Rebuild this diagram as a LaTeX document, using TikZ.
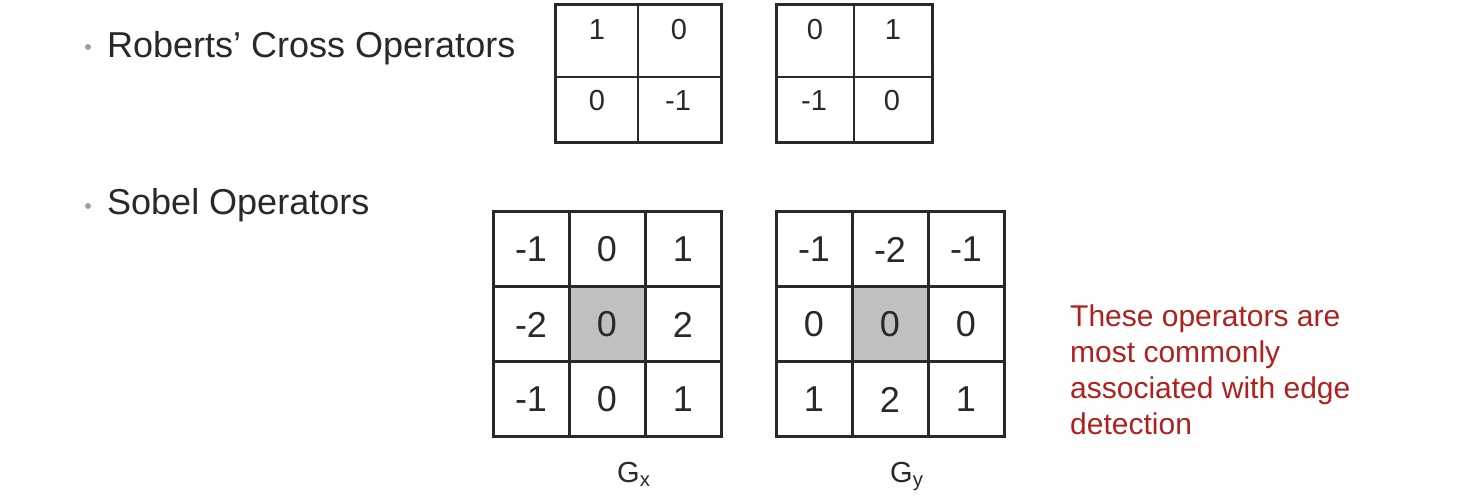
\documentclass[tikz,border=0pt]{standalone}
\usepackage{fontspec}
\setmainfont{Liberation Sans}
\usepackage{xcolor}
\usepackage{tikz}
\usetikzlibrary{positioning}
\definecolor{inkgray}{RGB}{40,40,46}
\definecolor{notered}{RGB}{176,32,28}
\definecolor{dotgray}{RGB}{150,162,156}
\definecolor{centergray}{RGB}{192,192,192}
\tikzset{kcell/.style={draw=inkgray,line width=3pt,minimum width=76pt,minimum height=75pt,inner sep=0pt,outer sep=0pt,text=inkgray,font=\fontsize{36}{36}\selectfont},
  rnum/.style={text=inkgray,inner sep=0pt,font=\fontsize{29}{29}\selectfont},
  bullet/.style={circle,fill=dotgray,inner sep=0pt,minimum size=6pt},
  head/.style={anchor=base west,inner sep=0pt,text=inkgray,font=\fontsize{36}{36}\selectfont}}

\begin{document}
\begin{tikzpicture}[x=1pt,y=-1pt]
        \useasboundingbox (0,0) rectangle (1460,502);

        % headings
        \node[bullet] (b1) at (88,47) {};
        \node[head] (roberts) at (107,58) {Roberts’ Cross Operators};
        \node[bullet] (b2) at (88,206) {};
        \node[head] (sobel) at (107,215) {Sobel Operators};

        % Roberts kernels
        \draw[inkgray,line width=1.5pt] (638,5) -- (638,143) (555,77) -- (721,77);
        \draw[inkgray,line width=3pt] (555,5) rectangle (721,143);
        \node[rnum] (ra1) at (597,30) {1};
        \node[rnum] (ra2) at (679,30) {0};
        \node[rnum] (ra3) at (597,101) {0};
        \node[rnum] (ra4) at (678,101) {-1};
        \draw[inkgray,line width=1.5pt] (854,5) -- (854,143) (776,77) -- (932,77);
        \draw[inkgray,line width=3pt] (776,5) rectangle (932,143);
        \node[rnum] (rb1) at (815,30) {0};
        \node[rnum] (rb2) at (893,30) {1};
        \node[rnum] (rb3) at (814,101) {-1};
        \node[rnum] (rb4) at (892,101) {0};

        % Sobel Gx
        \node[kcell] (gx11) at (531,249.5) {-1};
        \node[kcell] (gx12) at (607,249.5) {0};
        \node[kcell] (gx13) at (683,249.5) {1};
        \node[kcell] (gx21) at (531,324.5) {-2};
        \node[kcell,fill=centergray] (gx22) at (607,324.5) {0};
        \node[kcell] (gx23) at (683,324.5) {2};
        \node[kcell] (gx31) at (531,399.5) {-1};
        \node[kcell] (gx32) at (607,399.5) {0};
        \node[kcell] (gx33) at (683,399.5) {1};
        \node[anchor=base west,inner sep=0pt,text=inkgray,font=\fontsize{29}{29}\selectfont] (gxlabel) at (617,483) {G\textsubscript{x}};

        % Sobel Gy
        \node[kcell] (gy11) at (814,249.5) {-1};
        \node[kcell] (gy12) at (890,249.5) {-2};
        \node[kcell] (gy13) at (966,249.5) {-1};
        \node[kcell] (gy21) at (814,324.5) {0};
        \node[kcell,fill=centergray] (gy22) at (890,324.5) {0};
        \node[kcell] (gy23) at (966,324.5) {0};
        \node[kcell] (gy31) at (814,399.5) {1};
        \node[kcell] (gy32) at (890,399.5) {2};
        \node[kcell] (gy33) at (966,399.5) {1};
        \node[anchor=base west,inner sep=0pt,text=inkgray,font=\fontsize{29}{29}\selectfont] (gylabel) at (890,483) {G\textsubscript{y}};

        % note
        \node[anchor=north west,align=left,inner sep=0pt,text=notered,font=\fontsize{30}{36}\selectfont] (note) at (1070,305) {These operators are\\most commonly\\associated with edge\\detection};
    \end{tikzpicture}
\end{document}
